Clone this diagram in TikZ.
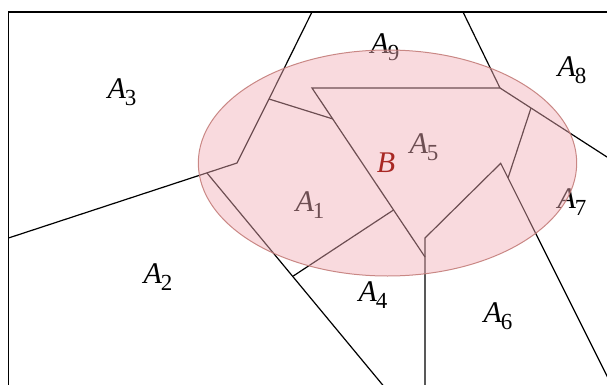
\documentclass[tikz,border=0pt]{standalone}
\usepackage{fontspec}
\newfontfamily\labfont{Liberation Serif}
\usetikzlibrary{calc}
\definecolor{ellfill}{RGB}{242,173,182}
\definecolor{elldraw}{RGB}{196,125,122}
\definecolor{bred}{RGB}{168,40,36}
\newcommand{\lbl}[1]{{\itshape A}\kern-1pt\raisebox{-7pt}{\fontsize{23}{25}\selectfont #1}}
\tikzset{
  part/.style={draw=black, line width=1.2pt},
  lab/.style={font=\labfont\fontsize{30}{34}\selectfont, inner sep=0pt},
}
\begin{document}
\begin{tikzpicture}[x=1pt,y=-1pt]
\useasboundingbox (0,0) rectangle (607,385);
\begin{scope}
\clip (0,0) rectangle (607,385);
% coordinates
\coordinate (t1) at (312,12);
\coordinate (p1) at (269,99);
\coordinate (p2) at (237,163);
\coordinate (l1) at (8.5,238);
\coordinate (q1) at (333,119);
\coordinate (T1) at (312,88);
\coordinate (T2) at (500,88);
\coordinate (t2) at (463,12);
\coordinate (r1) at (620,165.4);
\coordinate (m1) at (531,108);
\coordinate (m2) at (508,178);
\coordinate (P) at (500.7,163.3);
\coordinate (br) at (615,392);
\coordinate (V1) at (425,238);
\coordinate (V2) at (425,395);
\coordinate (T3) at (425,257);
\coordinate (k1) at (393.5,210);
\coordinate (k2) at (293.3,276);
\coordinate (s1) at (207,173);
\coordinate (s2) at (391,395);
% frame
\draw[line width=1.8pt] (8.5,400) -- (8.5,12) -- (620,12);
% partition lines
\draw[part] (t1) -- (p1) -- (p2) -- (l1);
\draw[part] (p1) -- (q1);
\draw[part] (T3) -- (T1) -- (T2) -- (t2);
\draw[part] (T2) -- (r1);
\draw[part] (m1) -- (m2);
\draw[part] (br) -- (P) -- (V1) -- (V2);
\draw[part] (k1) -- (k2);
\draw[part] (s1) -- (s2);
% labels
\node[lab] (a3) at (122,92) {\lbl{3}};
\node[lab] (a9) at (385,47) {\lbl{9}};
\node[lab] (a8) at (572,70) {\lbl{8}};
\node[lab] (a5) at (424,147) {\lbl{5}};
\node[lab] (a1) at (310,205) {\lbl{1}};
\node[lab] (a7) at (572,202) {\lbl{7}};
\node[lab] (a2) at (158,277) {\lbl{2}};
\node[lab] (a4) at (373,295) {\lbl{4}};
\node[lab] (a6) at (498,316) {\lbl{6}};
% set B
\path[fill=ellfill, fill opacity=0.45, draw=elldraw, line width=1pt, draw opacity=0.9]
  (387.5,163) ellipse [x radius=189.2, y radius=113];
\node[lab, text=bred] (b) at (386,163) {\itshape B};
\end{scope}
\end{tikzpicture}
\end{document}
